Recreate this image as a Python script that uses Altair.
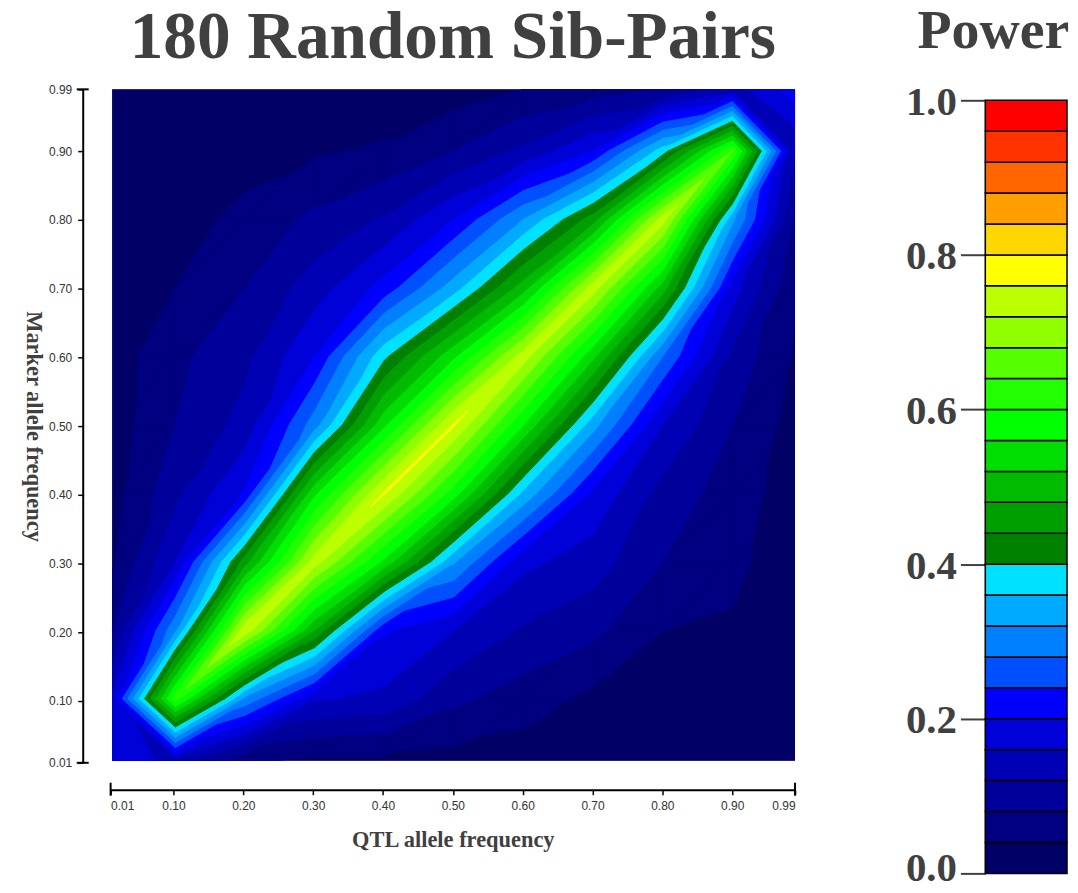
import altair as alt
import pandas as pd

alt.data_transformers.disable_max_rows()

TITLE_FONT = "Liberation Serif"
AXIS_FONT = "Liberation Sans"
INK = "#404040"

qtl = [0.01, 0.10, 0.20, 0.30, 0.40, 0.50, 0.60, 0.70, 0.80, 0.90, 0.99]
marker = [0.01, 0.10, 0.20, 0.30, 0.40, 0.50, 0.60, 0.70, 0.80, 0.90, 0.99]

# power, row by marker frequency, column by QTL frequency
p_m01 = [.20, .14, .05, .03, .03, .025, .02, .015, .01, .01, .01]
p_m10 = [.17, .62, .31, .165, .15, .09, .06, .03, .02, .02, .01]
p_m20 = [.08, .31, .75, .48, .205, .16, .115, .09, .04, .035, .01]
p_m30 = [.035, .16, .46, .74, .55, .325, .17, .14, .08, .05, .015]
p_m40 = [.025, .11, .205, .55, .765, .58, .35, .19, .105, .06, .02]
p_m50 = [.02, .08, .135, .30, .55, .765, .56, .335, .16, .08, .025]
p_m60 = [.02, .07, .11, .20, .39, .55, .74, .53, .28, .11, .035]
p_m70 = [.015, .04, .08, .14, .215, .34, .50, .74, .50, .18, .045]
p_m80 = [.012, .025, .05, .09, .125, .20, .32, .46, .74, .33, .075]
p_m90 = [.01, .02, .025, .035, .045, .08, .13, .20, .38, .64, .12]
p_m99 = [.01, .01, .01, .015, .015, .02, .04, .06, .08, .14, .22]
power = [p_m01, p_m10, p_m20, p_m30, p_m40, p_m50, p_m60, p_m70, p_m80, p_m90, p_m99]

band_low = [round(i * 0.04, 2) for i in range(25)]
band_high = [round((i + 1) * 0.04, 2) for i in range(25)]
band_color = [
    "#000066", "#000080", "#00009a", "#0000b4", "#0000d8",
    "#0000ff", "#0050ff", "#0080ff", "#00aaff", "#00e0ff",
    "#008000", "#009f00", "#00bb00", "#00dd00", "#00ff00",
    "#22ff00", "#55ff00", "#90ff00", "#bbff00", "#ffff00",
    "#ffd700", "#ffa000", "#ff6600", "#ff3300", "#ff0000",
]
axis_ticks = [0.01, 0.10, 0.20, 0.30, 0.40, 0.50, 0.60, 0.70, 0.80, 0.90, 0.99]
axis_ends = [0.01, 0.99]
legend_ticks = [0.0, 0.2, 0.4, 0.6, 0.8, 1.0]


def clip(tri, level):
    out = []
    for k in range(3):
        a, b = tri[k], tri[(k + 1) % 3]
        if a[2] >= level:
            out.append(a)
        if (a[2] >= level) != (b[2] >= level):
            t = (level - a[2]) / (b[2] - a[2])
            out.append((a[0] + t * (b[0] - a[0]), a[1] + t * (b[1] - a[1]), level))
    return out


def triangles():
    n = len(qtl)
    for j in range(n - 1):
        for i in range(n - 1):
            A = (qtl[i], marker[j], power[j][i])
            B = (qtl[i + 1], marker[j], power[j][i + 1])
            C = (qtl[i + 1], marker[j + 1], power[j + 1][i + 1])
            D = (qtl[i], marker[j + 1], power[j + 1][i])
            if i == j and i in (0, n - 2):
                yield (A, B, D)
                yield (B, C, D)
            else:
                yield (A, B, C)
                yield (A, C, D)


W, H = 687, 676
map_x = alt.Scale(domain=[0.01 - 2 / 701, 0.99], nice=False, zero=False)
map_y = alt.Scale(domain=[0.01 - 2.5 / 690, 0.99], nice=False, zero=False)

max_power = max(max(r) for r in power)
band_layers = []
for low, col in zip(band_low, band_color):
    if low > max_power:
        break
    rows = []
    pid = 0
    if low == 0:
        corners = [(qtl[0], marker[0]), (qtl[-1], marker[0]), (qtl[-1], marker[-1]), (qtl[0], marker[-1]), (qtl[0], marker[0])]
        rows = [{"q": c[0], "m": c[1], "poly": 0, "v": v} for v, c in enumerate(corners)]
    else:
        for tri in triangles():
            poly = clip(tri, low)
            if len(poly) >= 3:
                for v, pt in enumerate(poly + poly[:1]):
                    rows.append({"q": round(pt[0], 4), "m": round(pt[1], 4), "poly": pid, "v": v})
                pid += 1
    band_layers.append(
        alt.Chart(pd.DataFrame(rows))
        .mark_line(filled=True, fill=col, stroke=col, strokeWidth=1, clip=True, interpolate="linear")
        .encode(
            x=alt.X("q:Q", scale=map_x, axis=None),
            y=alt.Y("m:Q", scale=map_y, axis=None),
            detail="poly:N",
            order="v:Q",
        )
    )
surface = alt.layer(*band_layers)

axis_x = alt.Scale(domain=[0.01, 0.99], nice=False, zero=False)
axis_y = alt.Scale(domain=[0.01, 0.99], nice=False, zero=False)
axis_style = dict(
    values=axis_ticks, format=".2f", grid=False, domainColor="#000000", domainWidth=2,
    tickColor="#000000", tickWidth=1.5, tickSize=5, labelFont=AXIS_FONT, labelFontSize=12,
    labelColor="#333333", labelPadding=6, titleFont=TITLE_FONT,
    titleFontWeight="bold", titleColor=INK,
)
x_ends = (
    alt.Chart(pd.DataFrame({"q": axis_ends}))
    .mark_rule(color="#000000", strokeWidth=2)
    .encode(
        x=alt.X("q:Q", scale=axis_x,
                axis=alt.Axis(title="QTL allele frequency", offset=27, titlePadding=17, titleFontSize=22.5, **axis_style)),
        y=alt.value(H + 20), y2=alt.value(H + 33),
    )
)
y_ends = (
    alt.Chart(pd.DataFrame({"m": axis_ends}))
    .mark_rule(color="#000000", strokeWidth=2)
    .encode(
        y=alt.Y("m:Q", scale=axis_y,
                axis=alt.Axis(title="Marker allele frequency", offset=28, titleAngle=90, titlePadding=27, titleFontSize=22.5, **axis_style)),
        x=alt.value(-34), x2=alt.value(-22),
    )
)
axes = alt.layer(x_ends, y_ends)

main = (
    alt.layer(surface, axes)
    .resolve_scale(x="independent", y="independent")
    .properties(
        width=W, height=H,
        title=alt.TitleParams("180 Random Sib-Pairs", font=TITLE_FONT, fontSize=67.5, fontWeight="bold",
                              color=INK, anchor="middle", offset=11),
    )
)

legend_df = pd.DataFrame({"low": band_low, "high": band_high, "color": band_color})
legend = (
    alt.Chart(legend_df)
    .mark_rect(stroke="#000000", strokeWidth=1.5)
    .encode(
        y=alt.Y("low:Q", scale=alt.Scale(domain=[0, 1], range=[787, 11], nice=False, zero=False),
                axis=alt.Axis(title=None, values=legend_ticks, format=".1f", grid=False, domainColor=INK,
                              domainWidth=2, tickColor=INK, tickWidth=2, tickSize=25, labelFont=TITLE_FONT,
                              labelFontSize=41, labelFontWeight="bold", labelColor=INK, labelPadding=4,
                              labelOffset={"condition": {"test": "datum.value == 0", "value": -5}, "value": 2})),
        y2="high:Q",
        fill=alt.Fill("color:N", scale=None),
    )
    .properties(
        width=82, height=787,
        title=alt.TitleParams("Power", font=TITLE_FONT, fontSize=56, fontWeight="bold", color=INK,
                              anchor="middle", dx=-33, offset=21),
    )
)

chart = alt.hconcat(main, legend, spacing=191, bounds="flush", padding={"left": 14, "top": -6, "right": 0, "bottom": -9}).configure_view(stroke=None)
chart.save("out.html", embed_options={"renderer": "svg", "actions": False})
